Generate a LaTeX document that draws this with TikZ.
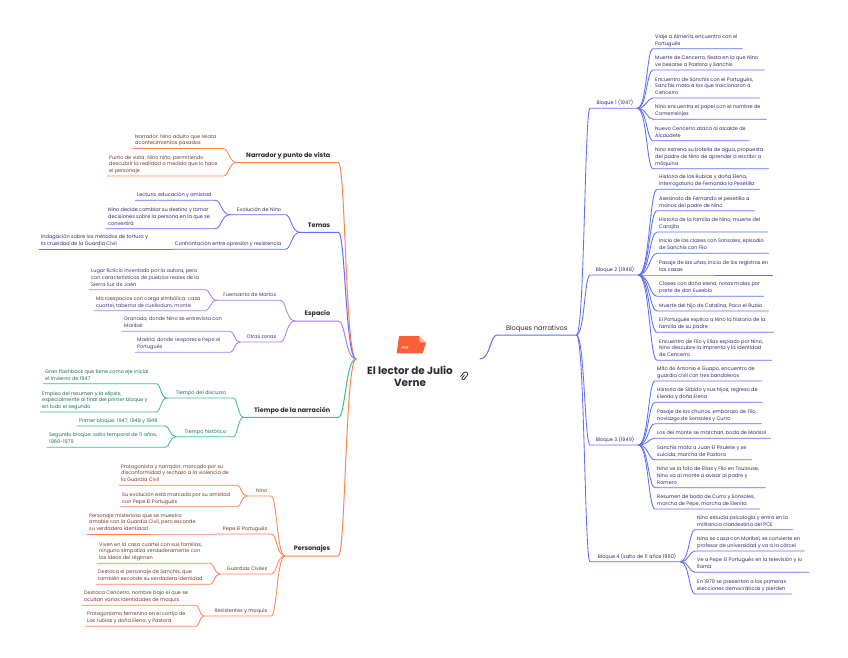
\documentclass[tikz,border=0pt]{standalone}
\usepackage{fontspec}
\setmainfont{Poppins}
\usetikzlibrary{calc}
\definecolor{orangeL}{HTML}{FF8452}
\definecolor{blueL}{HTML}{5F6FF7}
\definecolor{purpleL}{HTML}{A97FF5}
\definecolor{greenL}{HTML}{3FBF8A}
\definecolor{brownT}{HTML}{6E3B2C}
\definecolor{navyT}{HTML}{2E2C70}
\definecolor{purpleT}{HTML}{46366E}
\definecolor{greenT}{HTML}{1F6E52}
\definecolor{inkT}{HTML}{2B2B33}
\definecolor{pdfA}{HTML}{F9603A}
\definecolor{pdfB}{HTML}{FBB9A4}
\tikzset{
  lab/.style={anchor=south west,inner xsep=0pt,inner ysep=1.5pt,font=\fontsize{5}{6.65}\selectfont},
  boss/.style={lab,inner ysep=2.5pt,font=\fontsize{6.4}{8}\selectfont\bfseries,text=inkT},
  wire/.style={line width=0.85pt,line cap=round},
  trunk/.style={line width=1pt,line cap=round},
}
% leaf: name x1 x2 y colour text
\newcommand\leaf[6]{\pgfmathsetmacro\myw{#3-#2}%
  \node[lab,text=#5] (#1) at (#2,#4) {\makebox[\myw pt][l]{\hspace*{2pt}\begin{tabular}[b]{@{}l@{}}#6\end{tabular}}};}
% mid: name x1 x2 y inset colour text
\newcommand\midn[7]{\pgfmathsetmacro\myw{#3-#2}%
  \node[lab,text=#6] (#1) at (#2,#4) {\makebox[\myw pt][r]{#7\hspace*{#5pt}}\strut};}
\newcommand\bossn[5]{\pgfmathsetmacro\myw{#3-#2}%
  \node[boss] (#1) at (#2,#4) {\makebox[\myw pt][r]{#5\hspace*{8pt}}\strut};}
% link: from, bend end, far end, style
\newcommand\link[4]{\draw[#4] let \p1=(#1),\p2=(#2),\n1={\x1+0.6*(\x2-\x1)} in (\p1) .. controls (\n1,\y1) and (\n1,\y2) .. (\p2) -- (#3);}
\newcommand\lf[3]{\link{#1.south west}{#2.south east}{#2.south west}{wire,#3}}
\newcommand\rt[3]{\link{#1.south east}{#2.south west}{#2.south east}{wire,#3}}
\begin{document}
\begin{tikzpicture}[x=1pt,y=-1pt]
\useasboundingbox[fill=white] (0,0) rectangle (848,658);
\coordinate (rootL) at (356,359);
\coordinate (rootR) at (480,359);
% centre
\fill[pdfA] (399,336) -- (419,336) -- (426,342.7) -- (422.7,353.3) -- (396.7,353.3) -- cycle;
\fill[pdfB] (419,336) -- (426,342.7) -- (420,342) -- cycle;
\node[inner sep=0pt,text=white,font=\fontsize{4}{4}\selectfont\itshape] (pdf) at (405.3,348.3) {PDF};
\node[inner sep=0pt,align=center,text=inkT,font=\fontsize{10.4}{12.7}\selectfont\bfseries] (root) at (410,376.5) {El lector de Julio\\Verne};
\begin{scope}[shift={(464,376.7)},x=1pt,y=1pt,rotate=-40]
\draw[line width=0.8pt,inkT,line cap=round] (-0.7,1.5) -- (-0.7,-2.4) arc (180:360:1.2) -- (1.7,3) arc (0:180:2.2) -- (-2.7,-2);
\end{scope}
% left: Narrador
\bossn{b1}{237}{338}{162.5}{Narrador y punto de vista}
\leaf{l11}{133}{223}{148.5}{brownT}{Narrador: Nino adulto que relata\\acontecimientos pasados}
\leaf{l12}{107}{223}{176}{brownT}{Punto de vista: Nino niño, permitiendo\\descubrir la realidad a medida que lo hace\\el personaje}
\link{rootL}{b1.south east}{b1.south west}{trunk,orangeL}
\lf{b1}{l11}{orangeL}\lf{b1}{l12}{orangeL}
% Temas
\bossn{b2}{300}{338}{232.3}{Temas}
\midn{m21}{230}{285}{214.7}{4}{navyT}{Evolución de Nino}
\midn{m22}{172}{285}{249.3}{4}{navyT}{Confrontación entre opresión y resistencia}
\leaf{l211}{135}{215}{200.3}{navyT}{Lectura, educación y amistad}
\leaf{l212}{106}{215}{228.7}{navyT}{Nino decide cambiar su destino y tomar\\decisiones sobre la persona en la que se\\convertirá}
\leaf{l221}{39}{172}{249.3}{navyT}{Indagación sobre los métodos de tortura y\\la crueldad de la Guardia Civil}
\link{rootL}{b2.south east}{b2.south west}{trunk,blueL}
\lf{b2}{m21}{blueL}\lf{b2}{m22}{blueL}
\lf{m21}{l211}{blueL}\lf{m21}{l212}{blueL}\lf{m22}{l221}{blueL}
% Espacio
\bossn{b3}{295}{338}{321}{Espacio}
\midn{m31}{217}{280}{300.3}{4}{purpleT}{Fuensanta de Martos}
\midn{m32}{240}{280}{342}{4}{purpleT}{Otras zonas}
\leaf{l311}{89}{205}{289.7}{purpleT}{Lugar ficticio inventado por la autora, pero\\con características de pueblos reales de la\\Sierra Sur de Jaén}
\leaf{l312}{94}{205}{310.7}{purpleT}{Microespacios con carga simbólica: casa\\cuartel, taberna de cuelloduro, monte}
\leaf{l321}{122}{230}{331.3}{purpleT}{Granada, donde Nino se entrevista con\\Maribel}
\leaf{l322}{135}{230}{352.3}{purpleT}{Madrid, donde reaparece Pepe el\\Portugués}
\link{rootL}{b3.south east}{b3.south west}{trunk,purpleL}
\lf{b3}{m31}{purpleL}\lf{b3}{m32}{purpleL}
\lf{m31}{l311}{purpleL}\lf{m31}{l312}{purpleL}\lf{m32}{l321}{purpleL}\lf{m32}{l322}{purpleL}
% Tiempo
\bossn{b4}{244}{338}{417.3}{Tiempo de la narración}
\midn{m41}{167}{233}{398}{7}{greenT}{Tiempo del discurso}
\midn{m42}{176}{233}{436.7}{7}{greenT}{Tiempo histórico}
\leaf{l411}{43}{156}{383.7}{greenT}{Gran flashback que tiene como eje inicial\\el invierno de 1947}
\leaf{l412}{40}{156}{412}{greenT}{Empleo del resumen y la elipsis,\\especialmente al final del primer bloque y\\en todo el segundo}
\leaf{l421}{77}{165}{426}{greenT}{Primer bloque: 1947, 1948 y 1949}
\leaf{l422}{47}{165}{447.3}{greenT}{Segundo bloque: salto temporal de 11 años,\\1960-1979}
\link{rootL}{b4.south east}{b4.south west}{trunk,greenL}
\lf{b4}{m41}{greenL}\lf{b4}{m42}{greenL}
\lf{m41}{l411}{greenL}\lf{m41}{l412}{greenL}\lf{m42}{l421}{greenL}\lf{m42}{l422}{greenL}
% Personajes
\bossn{b5}{285}{338}{556}{Personajes}
\midn{m51}{247}{271}{496}{4}{brownT}{Nino}
\midn{m52}{216}{271}{534}{4}{brownT}{Pepe El Portugués}
\midn{m53}{220}{271}{574}{4}{brownT}{Guardias Civiles}
\midn{m54}{204}{271}{616}{4}{brownT}{Resistentes y maquis}
\leaf{l511}{119}{237}{485.3}{brownT}{Protagonista y narrador, marcado por su\\disconformidad y rechazo a la violencia de\\la Guardia Civil}
\leaf{l512}{120}{237}{506.7}{brownT}{Su evolución está marcada por su amistad\\con Pepe El Portugués}
\leaf{l521}{87}{216}{534}{brownT}{Personaje misterioso que se muestra\\amable con la Guardia Civil, pero esconde\\su verdadera identidad}
\leaf{l531}{97}{210}{563.3}{brownT}{Viven en la casa cuartel con sus familias,\\ninguno simpatiza verdaderamente con\\las ideas del régimen}
\leaf{l532}{96}{210}{584.3}{brownT}{Destaca el personaje de Sanchís, que\\también esconde su verdadera identidad}
\leaf{l541}{82}{196}{605.3}{brownT}{Destaca Cencerro, nombre bajo el que se\\ocultan varias identidades de maquis}
\leaf{l542}{85}{196}{626.3}{brownT}{Protagonismo femenino en el cortijo de\\Las rubias y doña Elena, y Pastora}
\link{rootL}{b5.south east}{b5.south west}{trunk,orangeL}
\lf{b5}{m51}{orangeL}\lf{b5}{m52}{orangeL}\lf{b5}{m53}{orangeL}\lf{b5}{m54}{orangeL}
\lf{m51}{l511}{orangeL}\lf{m51}{l512}{orangeL}\lf{m52}{l521}{orangeL}
\lf{m53}{l531}{orangeL}\lf{m53}{l532}{orangeL}\lf{m54}{l541}{orangeL}\lf{m54}{l542}{orangeL}
% right
\pgfmathsetmacro\myw{576-497}
\node[lab,inner ysep=2.2pt,text=inkT,font=\fontsize{6.6}{7}\selectfont] (br) at (497,335) {\makebox[\myw pt][c]{Bloques narrativos}\strut};
\link{rootR}{br.south west}{br.south east}{trunk,blueL}
\midn{r1}{590}{637}{108.3}{4}{navyT}{Bloque 1 (1947)}
\midn{r2}{590}{638}{275}{4}{navyT}{Bloque 2 (1948)}
\midn{r3}{590}{638}{445}{4}{navyT}{Bloque 3 (1949)}
\midn{r4}{590}{680}{561.7}{4}{navyT}{Bloque 4 (salto de 11 años 1960)}
\rt{br}{r1}{blueL}\rt{br}{r2}{blueL}\rt{br}{r3}{blueL}\rt{br}{r4}{blueL}
% Bloque 1
\leaf{a1}{653}{742}{48.7}{navyT}{Viaje a Almería, encuentro con el\\Portugués}
\leaf{a2}{653}{764}{70}{navyT}{Muerte de Cencerro, fiesta en la que Nino\\ve besarse a Pastora y Sanchís}
\leaf{a3}{653}{759}{98}{navyT}{Encuentro de Sanchís con el Portugués,\\Sanchís mata a los que traicionaron a\\Cencerro}
\leaf{a4}{653}{766}{119.3}{navyT}{Nino encuentra el papel con el nombre de\\Comerrelojes}
\leaf{a5}{653}{748}{140.7}{navyT}{Nuevo Cencerro ataca al alcalde de\\Alcaudete}
\leaf{a6}{653}{768}{168.7}{navyT}{Nino estrena su botella de agua, propuesta\\del padre de Nino de aprender a escribir a\\máquina}
\rt{r1}{a1}{blueL}\rt{r1}{a2}{blueL}\rt{r1}{a3}{blueL}\rt{r1}{a4}{blueL}\rt{r1}{a5}{blueL}\rt{r1}{a6}{blueL}
% Bloque 2
\leaf{c1}{657}{759}{189.3}{navyT}{Historia de las Rubias y doña Elena,\\interrogatorio de Fernanda la Pesetilla}
\leaf{c2}{657}{754}{210.7}{navyT}{Asesinato de Fernando el pesetilla a\\manos del padre de Nino}
\leaf{c3}{657}{767}{232}{navyT}{Historia de la familia de Nino, muerte del\\Carajita}
\leaf{c4}{657}{768}{253.3}{navyT}{Inicio de las clases con Sonsoles, episodio\\de Sanchís con Filo}
\leaf{c5}{657}{772}{275}{navyT}{Pasaje de las uñas, inicio de los registros en\\las casas}
\leaf{c6}{657}{763}{296.3}{navyT}{Clases con doña elena, notas malas por\\parte de don Eusebio}
\leaf{c7}{657}{768}{311}{navyT}{Muerte del hijo de Catalina, Paco el Rubio}
\leaf{c8}{657}{773}{332.3}{navyT}{El Portugués explica a Nino la historia de la\\familia de su padre}
\leaf{c9}{657}{771}{360.3}{navyT}{Encuentro de Filo y Elías espiado por Nino,\\Nino descubre la imprenta y la identidad\\de Cencerro}
\rt{r2}{c1}{blueL}\rt{r2}{c2}{blueL}\rt{r2}{c3}{blueL}\rt{r2}{c4}{blueL}\rt{r2}{c5}{blueL}\rt{r2}{c6}{blueL}\rt{r2}{c7}{blueL}\rt{r2}{c8}{blueL}\rt{r2}{c9}{blueL}
% Bloque 3
\leaf{d1}{655}{761}{381}{navyT}{Mito de Antonio e Guapo, encuentro de\\guardia civil con tres bandoleros}
\leaf{d2}{655}{762}{402.3}{navyT}{Historia de Silbido y sus hijos, regreso de\\Elenita y doña Elena}
\leaf{d3}{655}{761}{423.7}{navyT}{Pasaje de los churros, embarazo de Filo,\\noviazgo de Sonsoles y Curro}
\leaf{d4}{655}{770}{438.3}{navyT}{Los del monte se marchan, boda de Marisol}
\leaf{d5}{655}{751}{459.7}{navyT}{Sanchís mata a Juan El Pirulete y se\\suicida, marcha de Pastora}
\leaf{d6}{655}{765}{487.7}{navyT}{Nino ve la foto de Elías y Filo en Toulouse,\\Nino va al monte a avisar al padre y\\Romero}
\leaf{d7}{655}{759}{509}{navyT}{Resumen de boda de Curro y Sonsoles,\\marcha de Pepe, marcha de Elenita}
\rt{r3}{d1}{blueL}\rt{r3}{d2}{blueL}\rt{r3}{d3}{blueL}\rt{r3}{d4}{blueL}\rt{r3}{d5}{blueL}\rt{r3}{d6}{blueL}\rt{r3}{d7}{blueL}
% Bloque 4
\leaf{e1}{695}{792}{529.7}{navyT}{Nino estudia psicología y entra en la\\militancia clandestina del PCE}
\leaf{e2}{695}{804}{551}{navyT}{Nino se casa con Maribel, se convierte en\\profesor de universidad y va a la cárcel}
\leaf{e3}{695}{808.5}{572.3}{navyT}{Ve a Pepe El Portugués en la televisión y lo\\llama}
\leaf{e4}{695}{791}{594}{navyT}{En 1979 se presentan a las primeras\\elecciones democráticas y pierden}
\rt{r4}{e1}{blueL}\rt{r4}{e2}{blueL}\rt{r4}{e3}{blueL}\rt{r4}{e4}{blueL}
\end{tikzpicture}
\end{document}
